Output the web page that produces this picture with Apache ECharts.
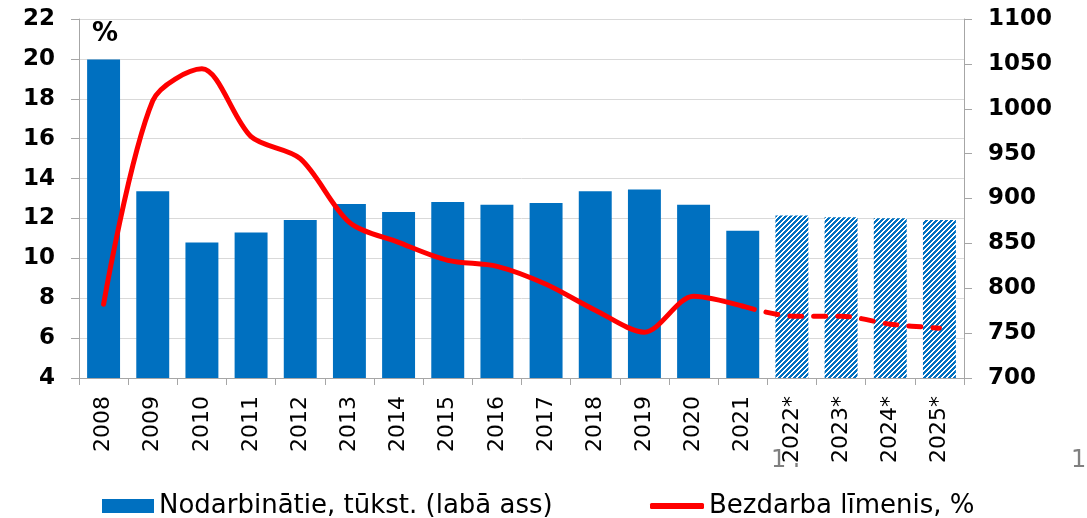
<!DOCTYPE html>
<html>
<head>
<meta charset="utf-8">
<title>Nodarbinātie un bezdarba līmenis</title>
<script src="https://cdn.jsdelivr.net/npm/echarts@6/dist/echarts.min.js"></script>
<style>
  html, body { margin: 0; padding: 0; background: #fff; }
  #chart { width: 1087px; height: 518px; }
</style>
</head>
<body>
<div id="chart"></div>
<script>
// gadi (ar * - prognoze)
const years = ['2008', '2009', '2010', '2011', '2012', '2013', '2014', '2015', '2016',
  '2017', '2018', '2019', '2020', '2021', '2022*', '2023*', '2024*', '2025*']
// nodarbinātie, tūkst. (labā ass)
const employed = [1055, 908, 851, 862, 876, 894, 885, 896, 893, 895, 908, 910, 893, 864, 881, 879, 878, 876]
// bezdarba līmenis, % - faktiskie dati 2008-2021
const unemploymentActual = [7.7, 17.9, 19.5, 16.1, 15.0, 11.8, 10.8, 9.9, 9.6, 8.7, 7.4, 6.3, 8.1, 7.6]
// bezdarba līmenis, % - prognoze 2022-2025
const unemploymentForecast = [7.1, 7.1, 6.7, 6.5]

const forecastFrom = unemploymentActual.length // pirmā prognozes gada indekss
const barColor = '#0070C0'
const lineColor = '#FF0000'
const fontFamily = '"DejaVu Sans", Verdana, sans-serif'

// svītrots raksts prognozes stabiņiem
function makeHatch () {
  const n = 5
  const c = document.createElement('canvas')
  c.width = n
  c.height = n
  const ctx = c.getContext('2d')
  ctx.fillStyle = '#fff'
  ctx.fillRect(0, 0, n, n)
  ctx.fillStyle = barColor
  for (let x = 0; x < n; x++) {
    for (let y = 0; y < n; y++) {
      if ((x + y) % n < 3) ctx.fillRect(x, y, 1, 1)
    }
  }
  return c
}
const hatch = { image: makeHatch(), repeat: 'repeat' }

const barData = employed.map((v, i) => {
  if (i >= forecastFrom) {
    return { value: v, itemStyle: { color: hatch } }
  }
  return v
})
const solidLine = years.map((y, i) => i < forecastFrom ? unemploymentActual[i] : null)
const dashedLine = years.map((y, i) => {
  if (i === forecastFrom - 1) return unemploymentActual[i]
  if (i >= forecastFrom) return unemploymentForecast[i - forecastFrom]
  return null
})

const barName = 'Nodarbinātie, tūkst. (labā ass)'
const lineName = 'Bezdarba līmenis, %'

const chart = echarts.init(document.getElementById('chart'))
const option = {
  animation: false,
  textStyle: { fontFamily: fontFamily },
  grid: { left: 79, right: 123, top: 19, bottom: 140 },
  legend: [
    {
      data: [{ name: barName, icon: 'rect' }],
      left: 102,
      top: 493,
      padding: 0,
      itemWidth: 52,
      itemHeight: 14,
      textStyle: { fontSize: 26, color: '#000', fontFamily: fontFamily }
    },
    {
      data: [{ name: lineName, icon: 'roundRect', itemStyle: { color: lineColor } }],
      left: 650,
      top: 493,
      padding: 0,
      itemWidth: 54,
      itemHeight: 6,
      textStyle: { fontSize: 26, color: '#000', fontFamily: fontFamily }
    }
  ],
  xAxis: {
    type: 'category',
    data: years,
    axisLine: { lineStyle: { color: '#A6A6A6', width: 1 } },
    axisTick: { show: true, length: 7, lineStyle: { color: '#A6A6A6' } },
    axisLabel: {
      interval: 0,
      rotate: 90,
      margin: 18,
      fontSize: 22,
      color: '#000',
      backgroundColor: '#fff'
    },
    z: 5
  },
  yAxis: [
    {
      type: 'value',
      min: 4,
      max: 22,
      interval: 2,
      axisLine: { show: true, lineStyle: { color: '#A6A6A6' } },
      axisTick: { show: true, length: 8, lineStyle: { color: '#A6A6A6' } },
      axisLabel: { fontSize: 23, fontWeight: 'bold', color: '#000', margin: 24 },
      splitLine: { show: true, lineStyle: { color: '#D9D9D9', width: 1 } }
    },
    {
      type: 'value',
      min: 700,
      max: 1100,
      interval: 50,
      position: 'right',
      axisLine: { show: true, lineStyle: { color: '#A6A6A6' } },
      axisTick: { show: true, length: 8, lineStyle: { color: '#A6A6A6' } },
      axisLabel: {
        fontSize: 23,
        fontWeight: 'bold',
        color: '#000',
        margin: 24,
        formatter: v => String(v)
      },
      splitLine: { show: false }
    }
  ],
  graphic: [
    {
      type: 'text',
      left: 92,
      top: 21,
      style: { text: '%', font: 'bold 26px ' + fontFamily, fill: '#000' }
    },
    {
      type: 'text',
      left: 771,
      top: 449,
      z: -1,
      style: { text: '14', font: '24px ' + fontFamily, fill: '#808080' }
    },
    {
      type: 'text',
      left: 1071,
      top: 449,
      z: -1,
      style: { text: '14', font: '24px ' + fontFamily, fill: '#808080' }
    }
  ],
  series: [
    {
      name: barName,
      type: 'bar',
      yAxisIndex: 1,
      data: barData,
      barCategoryGap: '33%',
      itemStyle: { color: barColor }
    },
    {
      name: lineName,
      type: 'line',
      yAxisIndex: 0,
      data: solidLine,
      smooth: 0.3,
      symbol: 'none',
      z: 4,
      lineStyle: { color: lineColor, width: 5, cap: 'round' },
      itemStyle: { color: lineColor }
    },
    {
      name: lineName,
      type: 'line',
      yAxisIndex: 0,
      data: dashedLine,
      smooth: 0.3,
      symbol: 'none',
      z: 4,
      lineStyle: { color: lineColor, width: 5, type: [12, 12], cap: 'round' },
      itemStyle: { color: lineColor }
    }
  ]
}
chart.setOption(option)
</script>
</body>
</html>
